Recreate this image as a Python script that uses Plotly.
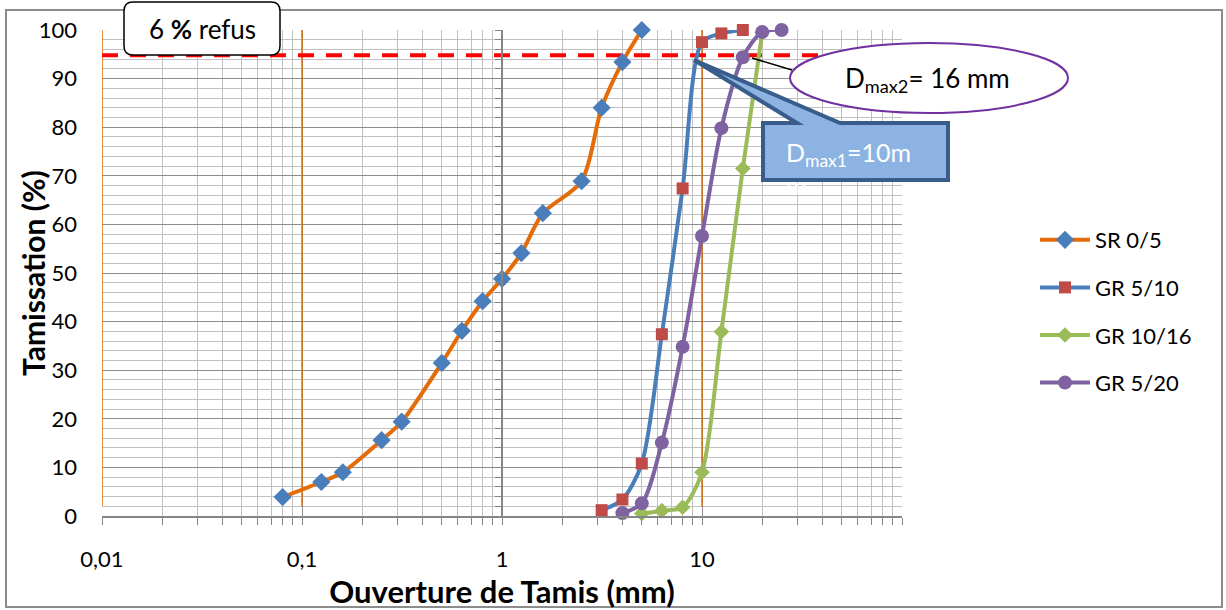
import plotly.graph_objects as go

# ---------------- data ----------------
sr_x = [0.08, 0.125, 0.16, 0.25, 0.315, 0.5, 0.63, 0.8, 1, 1.25, 1.6, 2.5, 3.15, 4, 5]
sr_y = [3.9, 7.0, 9.0, 15.6, 19.4, 31.5, 38.1, 44.2, 48.8, 54.1, 62.3, 68.9, 84.0, 93.4, 100]

g510_x = [3.15, 4, 5, 6.3, 8, 10, 12.5, 16]
g510_y = [1.2, 3.4, 10.8, 37.4, 67.4, 97.5, 99.3, 100]

g1016_x = [5, 6.3, 8, 10, 12.5, 16, 20]
g1016_y = [0.5, 1.1, 1.8, 9.0, 37.9, 71.5, 99.5]

g520_x = [4, 5, 6.3, 8, 10, 12.5, 16, 20, 25]
g520_y = [0.6, 2.6, 15.1, 34.8, 57.6, 79.8, 94.4, 99.6, 100]

refus_level = 94.8
orange_vlines = [0.01, 0.1, 10]
vline_range = [2, 100]

x_tickvals = [0.01, 0.1, 1, 10]
x_ticktext = ["0,01", "0,1", "1", "10"]
x_minor = [k * 10 ** e for e in (-2, -1, 0, 1) for k in range(2, 10)] + [100]

FONT = "Lato, Calibri, sans-serif"

# pixel geometry of plot area
L, R, T, B = 102, 902, 30, 516
W, H = 1226, 610


def px(xp):
    return (xp - L) / (R - L)


def py(yp):
    return (B - yp) / (B - T)


fig = go.Figure()

# orange vertical reference lines
for v in orange_vlines:
    fig.add_trace(go.Scatter(x=[v, v], y=vline_range, mode="lines",
                             line=dict(color="#E36C09", width=1.5),
                             showlegend=False, hoverinfo="skip"))

# red dashed 6 % refus line
fig.add_trace(go.Scatter(x=[0.01, 100], y=[refus_level, refus_level], mode="lines",
                         line=dict(color="#FF0000", width=4, dash="16px,12px"),
                         showlegend=False, hoverinfo="skip"))

series = [
    ("SR 0/5", sr_x, sr_y, "#E36C09", "#4A7EBB", "diamond", 14),
    ("GR 5/10", g510_x, g510_y, "#4A7EBB", "#BE4B48", "square", 12),
    ("GR 10/16", g1016_x, g1016_y, "#9BBB59", "#9BBB59", "diamond", 12),
    ("GR 5/20", g520_x, g520_y, "#7F63A1", "#7F63A1", "circle", 14),
]
for i, (name, xs, ys, lc, mc, sym, ms) in enumerate(series):
    fig.add_trace(go.Scatter(
        x=xs, y=ys, name=name, mode="lines+markers",
        line=dict(color=lc, width=4, shape="spline", smoothing=0.8),
        marker=dict(color=mc, symbol=sym, size=ms, line=dict(width=0)),
        cliponaxis=False, legendgroup=f"g{i}"))

# invisible trace for secondary y axis at x = 1
fig.add_trace(go.Scatter(x=[], y=[], yaxis="y2", showlegend=False, hoverinfo="skip"))

shapes = []
# chart border
shapes.append(dict(type="rect", xref="paper", yref="paper",
                   x0=px(6), x1=px(1222), y0=py(607), y1=py(10),
                   line=dict(color="#8C8C8C", width=2), fillcolor="rgba(0,0,0,0)",
                   layer="below"))

# rounded box "6 % refus"
bx0, bx1, by0, by1, r = 124, 280, 2, 55, 9
pts = (f"M{px(bx0 + r)},{py(by0)} L{px(bx1 - r)},{py(by0)} "
       f"Q{px(bx1)},{py(by0)} {px(bx1)},{py(by0 + r)} "
       f"L{px(bx1)},{py(by1 - r)} Q{px(bx1)},{py(by1)} {px(bx1 - r)},{py(by1)} "
       f"L{px(bx0 + r)},{py(by1)} Q{px(bx0)},{py(by1)} {px(bx0)},{py(by1 - r)} "
       f"L{px(bx0)},{py(by0 + r)} Q{px(bx0)},{py(by0)} {px(bx0 + r)},{py(by0)} Z")
shapes.append(dict(type="path", xref="paper", yref="paper", path=pts,
                   line=dict(color="#000000", width=1.5), fillcolor="white"))

# callout Dmax1
cp = [(763, 123), (797, 123), (694, 60), (840, 123), (948, 123), (948, 180), (763, 180)]
path = "M" + " L".join(f"{px(a)},{py(b)}" for a, b in cp) + " Z"
shapes.append(dict(type="path", xref="paper", yref="paper", path=path,
                   line=dict(color="#385D8A", width=4), fillcolor="#8DB3E2"))

# leader line + ellipse Dmax2
shapes.append(dict(type="line", xref="paper", yref="paper",
                   x0=px(752), y0=py(58), x1=px(792), y1=py(70),
                   line=dict(color="black", width=1.5)))
shapes.append(dict(type="circle", xref="paper", yref="paper",
                   x0=px(790), x1=px(1068), y0=py(113), y1=py(43),
                   line=dict(color="#7030A0", width=2), fillcolor="white"))

annotations = [
    dict(xref="paper", yref="paper", x=px(202), y=py(29), text="6 <b>%</b> refus",
         showarrow=False, font=dict(family=FONT, size=26, color="black"),
         xanchor="center", yanchor="middle"),
    dict(xref="paper", yref="paper", x=px(927), y=py(80), text="D<sub>max2</sub>= 16 mm",
         showarrow=False, font=dict(family=FONT, size=26, color="black"),
         xanchor="center", yanchor="middle"),
    dict(xref="paper", yref="paper", x=px(784), y=py(135), text="D<sub>max1</sub>=10m<br>m",
         showarrow=False, font=dict(family=FONT, size=25, color="white"),
         xanchor="left", yanchor="top", align="left"),
    dict(xref="paper", yref="paper", x=px(33), y=py(273), text="<b>Tamissation (%)</b>",
         showarrow=False, textangle=-90, font=dict(family=FONT, size=30, color="black"),
         xanchor="center", yanchor="middle"),
]

fig.update_layout(
    width=W, height=H,
    margin=dict(l=L, r=W - R, t=T, b=H - B, autoexpand=False),
    paper_bgcolor="white", plot_bgcolor="white",
    font=dict(family=FONT, size=22, color="black"),
    shapes=shapes, annotations=annotations,
    showlegend=True,
    legend=dict(x=px(1035), y=py(219), xanchor="left", yanchor="top",
                font=dict(family=FONT, size=22), itemwidth=50,
                traceorder="grouped", tracegroupgap=16,
                bgcolor="rgba(0,0,0,0)"),
    xaxis=dict(type="log", range=[-2, 2],
               tickvals=x_tickvals, ticktext=x_ticktext,
               showline=True, linecolor="#868686", linewidth=1.5,
               ticks="outside", ticklen=7, tickcolor="#868686", tickwidth=1.3,
               showgrid=True, gridcolor="#8C8C8C", gridwidth=1.2,
               minor=dict(tickvals=x_minor, showgrid=True, gridcolor="#C0C0C0", gridwidth=1.2,
                          ticks="outside", ticklen=7, tickcolor="#868686", tickwidth=1.3),
               zeroline=False, ticklabelstandoff=16,
               title=dict(text="<b>Ouverture de Tamis (mm)</b>", font=dict(family=FONT, size=31),
                          standoff=1)),
    yaxis=dict(range=[0, 100], dtick=10, tick0=0,
               showline=False, ticks="", zeroline=False,
               showgrid=True, gridcolor="#8C8C8C", gridwidth=1.2,
               minor=dict(dtick=2, showgrid=True, gridcolor="#C0C0C0", gridwidth=1.2),
               ticklabelstandoff=24),
    yaxis2=dict(range=[0, 100], overlaying="y", anchor="free", position=0.5, side="left",
                showgrid=False, showticklabels=False, zeroline=False,
                showline=True, linecolor="#868686", linewidth=1.5,
                ticks="outside", ticklen=6, dtick=2, tick0=0, tickcolor="#868686"),
)

fig.write_html("out.html")
